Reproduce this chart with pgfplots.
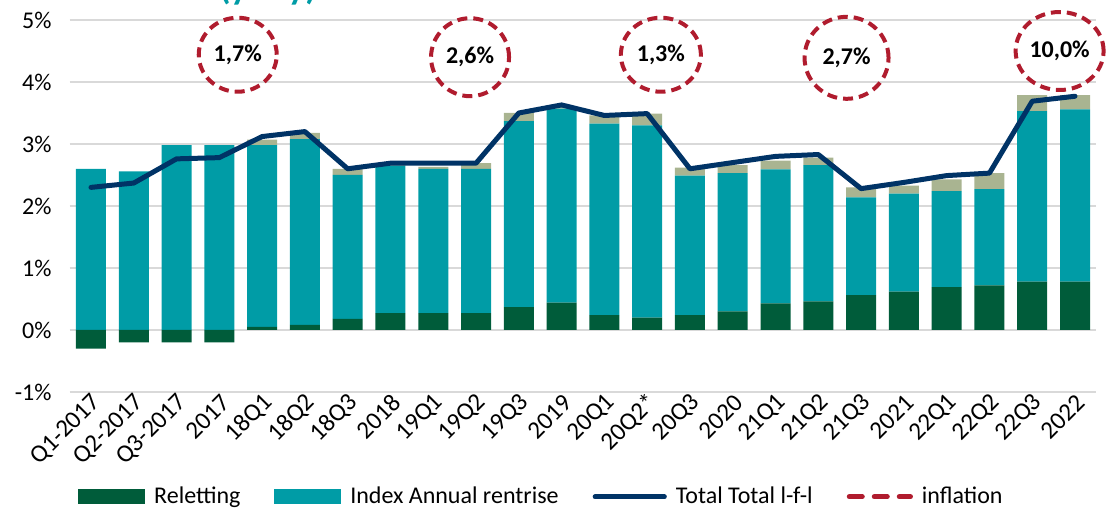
\documentclass[border=0pt]{standalone}
\usepackage{pgfplots}
\pgfplotsset{compat=1.18}
\usepackage{pgfplotstable}
\usepackage{fontspec}
\setmainfont{Carlito}

\definecolor{relgreen}{HTML}{005C3A}
\definecolor{idxteal}{HTML}{009CA6}
\definecolor{othgray}{HTML}{A9B491}
\definecolor{totnavy}{HTML}{003366}
\definecolor{inflred}{HTML}{B01C2E}
\definecolor{gridgray}{HTML}{D9D9D9}

% negative reletting values stack downwards on their own
\pgfplotstableread{
x  rel   idx   oth   tot
0  -0.30 2.60  0.00  2.30
1  -0.20 2.56  0.00  2.37
2  -0.20 2.98  0.00  2.76
3  -0.20 2.98  0.00  2.78
4  0.05  2.93  0.09  3.12
5  0.08  3.00  0.10  3.20
6  0.18  2.32  0.10  2.60
7  0.27  2.38  0.03  2.69
8  0.27  2.33  0.03  2.69
9  0.27  2.33  0.09  2.69
10 0.37  3.00  0.13  3.50
11 0.44  3.13  0.03  3.63
12 0.24  3.09  0.13  3.46
13 0.20  3.10  0.19  3.49
14 0.24  2.25  0.13  2.60
15 0.30  2.23  0.13  2.70
16 0.43  2.16  0.14  2.80
17 0.46  2.20  0.12  2.83
18 0.56  1.58  0.16  2.28
19 0.62  1.58  0.13  2.38
20 0.69  1.55  0.19  2.49
21 0.72  1.55  0.26  2.53
22 0.78  2.75  0.26  3.69
23 0.78  2.78  0.23  3.77
}\data

\pgfplotsset{
  chartbase/.style={
    at={(0,0)}, anchor=south west,
    scale only axis, width=513.5pt, height=186pt,
    xmin=-0.5, xmax=23.5, ymin=-1, ymax=5,
  },
}

\begin{document}
\begin{tikzpicture}[font=\fontsize{12}{14}\selectfont]
\useasboundingbox (-34.8pt,-59.5pt) rectangle (518.8pt,196pt);

\begin{axis}[
  chartbase,
  ybar stacked, bar width=15pt,
  axis line style={draw=none},
  tick style={draw=none},
  ymajorgrids, major grid style={draw=gridgray, line width=0.75pt},
  ytick={-1,0,1,2,3,4,5},
  yticklabels={-1\%,0\%,1\%,2\%,3\%,4\%,5\%},
  yticklabel style={xshift=-5.5pt},
  xtick={0,...,23},
  xticklabels={Q1-2017,Q2-2017,Q3-2017,2017,18Q1,18Q2,18Q3,2018,19Q1,19Q2,19Q3,2019,20Q1,20Q2*,20Q3,2020,21Q1,21Q2,21Q3,2021,22Q1,22Q2,22Q3,2022},
  xticklabel style={rotate=45, anchor=east, inner sep=0pt, yshift=-4.5pt, xshift=0pt,
    font=\fontsize{12.5}{14}\selectfont},
]
\addplot[fill=relgreen, draw=none] table[x=x, y=rel]{\data};
\addplot[fill=idxteal, draw=none] table[x=x, y=idx]{\data};
\addplot[fill=othgray, draw=none] table[x=x, y=oth]{\data};
\end{axis}

\begin{axis}[chartbase, hide axis, clip=false,
  legend columns=4,
  legend style={at={(0.0082,-0.282)}, anchor=west, draw=none, fill=none, inner sep=0pt,
    font=\fontsize{12}{14}\selectfont,
    /tikz/every odd column/.append style={column sep=2.5pt},
    /tikz/every even column/.append style={column sep=15pt}},
]
\addlegendimage{legend image code/.code={\fill[relgreen] (0pt,-3.5pt) rectangle (33pt,3.5pt);}}
\addlegendentry{Reletting}
\addlegendimage{legend image code/.code={\fill[idxteal] (0pt,-3.5pt) rectangle (33pt,3.5pt);}}
\addlegendentry{Index Annual rentrise}
\addplot[totnavy, line width=2.5pt, line join=round, line cap=round,
  legend image code/.code={\draw[totnavy, line width=2.5pt, line cap=round] (1.2pt,0pt) -- (35.8pt,0pt);}]
  table[x=x, y=tot]{\data};
\addlegendentry{Total Total l-f-l}
\addlegendimage{legend image code/.code={\draw[inflred, line width=2.5pt, line cap=round, dash pattern=on 6.5pt off 6pt] (1.2pt,0pt) -- (31.8pt,0pt);}}
\addlegendentry{inflation}

% inflation call-outs
\draw[inflred, line width=2pt, dash pattern=on 5pt off 3pt] (axis cs:3.43,4.44) ellipse [x radius=19.5pt, y radius=18.5pt];
\draw[inflred, line width=2pt, dash pattern=on 5pt off 3pt] (axis cs:8.86,4.40) ellipse [x radius=19.5pt, y radius=19.5pt];
\draw[inflred, line width=2pt, dash pattern=on 5pt off 3pt] (axis cs:13.32,4.44) ellipse [x radius=20pt, y radius=18.5pt];
\draw[inflred, line width=2pt, dash pattern=on 5pt off 3pt] (axis cs:17.66,4.39) ellipse [x radius=21pt, y radius=20.5pt];
\draw[inflred, line width=2pt, dash pattern=on 5pt off 3pt] (axis cs:22.64,4.50) ellipse [x radius=22pt, y radius=19.5pt];
\node[font=\bfseries\fontsize{12}{14}\selectfont] at (axis cs:3.43,4.44) {1,7\%};
\node[font=\bfseries\fontsize{12}{14}\selectfont] at (axis cs:8.86,4.40) {2,6\%};
\node[font=\bfseries\fontsize{12}{14}\selectfont] at (axis cs:13.32,4.44) {1,3\%};
\node[font=\bfseries\fontsize{12}{14}\selectfont] at (axis cs:17.66,4.39) {2,7\%};
\node[font=\bfseries\fontsize{12}{14}\selectfont] at (axis cs:22.64,4.50) {10,0\%};
\end{axis}

\node[anchor=base, text=idxteal, font=\bfseries\fontsize{18}{18}\selectfont] at (99.2pt,196.5pt) {(y-o-y)};
\end{tikzpicture}
\end{document}
